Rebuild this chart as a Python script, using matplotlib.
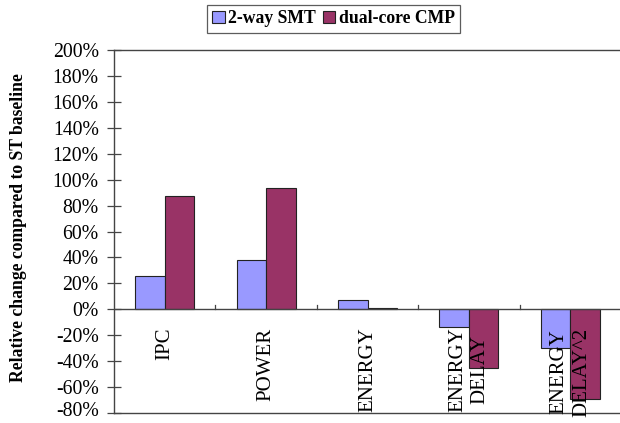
import matplotlib
matplotlib.use("Agg")
import matplotlib.pyplot as plt
import matplotlib.transforms as mtransforms
import numpy as np

categories = ["IPC", "POWER", "ENERGY", "ENERGY\nDELAY", "ENERGY\nDELAY^2"]
smt = [26, 38, 7.5, -14, -30]
cmp_ = [87.5, 93.5, 1.3, -45, -69]
series_names = ["2-way SMT", "dual-core CMP"]
yticks = list(range(-80, 201, 20))

plt.rcParams['font.family'] = ['Liberation Serif', 'DejaVu Serif']

fig = plt.figure(figsize=(6.2, 4.23), dpi=100)
ax = fig.add_axes([114/620, 1-413/423, (621-114)/620, (413-50)/423])

x = np.arange(len(categories))
w = 0.29
ax.bar(x - w/2, smt, w, color='#9999FF', edgecolor='#222222', linewidth=0.8, label=series_names[0], zorder=3)
ax.bar(x + w/2, cmp_, w, color='#993366', edgecolor='#222222', linewidth=0.8, label=series_names[1], zorder=3)

ax.set_xlim(-0.5, len(categories) - 0.5)
ax.set_ylim(-80, 200)
ax.set_yticks(yticks)
ax.set_yticklabels([f"{v}%" for v in yticks], fontsize=14.2)
ax.tick_params(axis='y', direction='inout', length=10, width=0.9, color='#444444', pad=6)
# nudge the lowest label so it stays inside the figure
lowest = ax.get_yticklabels()[0]
lowest.set_transform(lowest.get_transform() +
                     mtransforms.ScaledTranslation(0, 3/72, fig.dpi_scale_trans))

# x axis at zero
ax.axhline(0, color='#444444', linewidth=1.0, zorder=4)
ax.set_xticks([])
for b in np.arange(0.5, len(categories) - 0.5, 1.0):
    ax.plot([b, b], [0, 3.5], color='#444444', linewidth=0.9, zorder=4)

for sp in ['left', 'bottom', 'top']:
    ax.spines[sp].set_color('#444444')
    ax.spines[sp].set_linewidth(1.0)
ax.spines['right'].set_visible(False)

for i, c in enumerate(categories):
    ax.text(i, -14.0, c, rotation=90, ha='center', va='top', multialignment='center',
            fontsize=15, clip_on=False, zorder=5, linespacing=1.25)

fig.text(19/620, 1 - 228/423, "Relative change compared to ST baseline", rotation=90,
         ha='center', va='center', fontsize=12.7, fontweight='bold')

leg = fig.legend(loc='upper center', bbox_to_anchor=(0.538, 0.988), ncol=2,
                 prop={'weight': 'bold', 'size': 12.7}, frameon=True, fancybox=False,
                 handlelength=0.7, handleheight=0.7, handletextpad=0.2, columnspacing=0.4,
                 borderpad=0.3, borderaxespad=0.0)
leg.get_frame().set_edgecolor('#333333')
leg.get_frame().set_linewidth(0.9)

fig.savefig("out.png", dpi=100)
